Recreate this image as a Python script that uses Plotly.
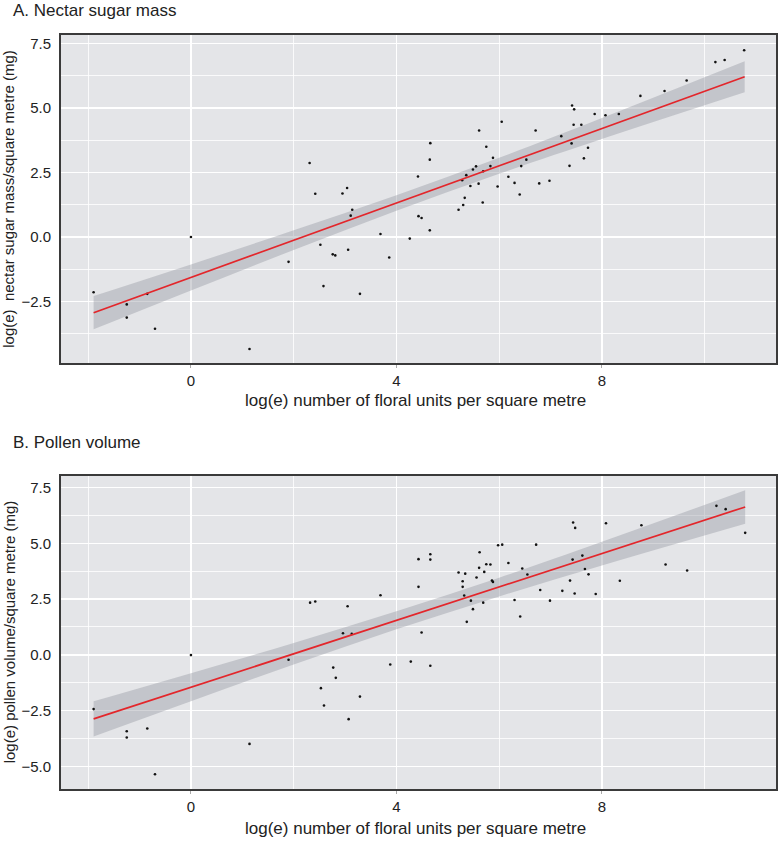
import plotly.graph_objects as go

# ---- Data ----
nectar_x = [-1.895, -1.25, -1.25, -0.85, -0.70, 0.0, 1.14,
            1.90, 2.31, 2.42, 2.52, 2.58, 2.76, 2.81, 2.95, 3.04, 3.06, 3.11, 3.14, 3.29,
            3.69, 3.86, 4.26, 4.42, 4.43, 4.49, 4.65, 4.65, 4.66,
            5.21, 5.28, 5.30, 5.33, 5.36, 5.44, 5.49, 5.55, 5.60, 5.61, 5.68, 5.69, 5.75,
            5.83, 5.88, 5.97, 6.05, 6.18, 6.30, 6.40, 6.43, 6.53, 6.71, 6.78, 6.98,
            7.21, 7.37, 7.41, 7.42, 7.45, 7.46, 7.60, 7.65, 7.73, 7.86, 8.07, 8.33,
            8.75, 9.22, 9.65, 10.21, 10.39, 10.77]
nectar_y = [-2.14, -2.61, -3.12, -2.20, -3.55, 0.0, -4.34,
            -0.96, 2.87, 1.68, -0.30, -1.90, -0.67, -0.71, 1.69, 1.90, -0.49, 0.83, 1.06, -2.20,
            0.12, -0.79, -0.06, 2.35, 0.81, 0.74, 0.26, 3.00, 3.64,
            1.06, 2.20, 1.24, 1.52, 2.40, 1.98, 2.62, 2.74, 2.07, 4.13, 1.34, 2.55, 3.50,
            2.75, 3.07, 1.96, 4.47, 2.34, 2.10, 1.65, 2.75, 3.00, 4.13, 2.08, 2.18,
            3.91, 2.76, 3.63, 5.10, 4.35, 4.95, 4.35, 3.05, 3.46, 4.77, 4.72, 4.77,
            5.47, 5.66, 6.07, 6.78, 6.86, 7.24]

pollen_x = [-1.895, -1.25, -1.25, -0.85, -0.70, 0.0, 1.14,
            1.90, 2.32, 2.42, 2.53, 2.59, 2.77, 2.82, 2.96, 3.05, 3.07, 3.13, 3.29,
            3.69, 3.88, 4.28, 4.43, 4.43, 4.49, 4.66, 4.66, 4.66,
            5.21, 5.29, 5.29, 5.32, 5.34, 5.37, 5.45, 5.49, 5.56, 5.61, 5.62, 5.69, 5.71,
            5.75, 5.83, 5.86, 5.88, 5.98, 6.06, 6.18, 6.30, 6.41, 6.45, 6.55, 6.72, 6.80,
            6.99, 7.23, 7.38, 7.43, 7.44, 7.47, 7.48, 7.62, 7.67, 7.74, 7.88, 8.08, 8.35,
            8.77, 9.24, 9.66, 10.23, 10.41, 10.79]
pollen_y = [-2.43, -3.42, -3.70, -3.30, -5.35, -0.01, -3.99,
            -0.22, 2.34, 2.39, -1.49, -2.27, -0.57, -1.03, 0.97, 2.18, -2.88, 0.94, -1.87,
            2.67, -0.43, -0.30, 4.29, 3.05, 1.00, 4.51, 4.27, -0.49,
            3.69, 3.30, 3.05, 2.66, 3.64, 1.48, 2.43, 2.05, 3.47, 3.90, 4.60, 2.34, 3.72,
            4.06, 4.05, 3.33, 3.27, 4.91, 4.94, 4.12, 2.46, 1.72, 3.87, 3.60, 4.94, 2.91,
            2.43, 2.87, 3.33, 4.27, 5.93, 2.75, 5.69, 4.45, 3.85, 3.61, 2.73, 5.90, 3.32,
            5.81, 4.05, 3.78, 6.68, 6.53, 5.47]

# fitted line and 95% band at a few x positions
nectar_fit_x = [-1.895, 0, 2, 4, 6, 8, 10.78]
nectar_fit_y = [-2.93, -1.56, -0.12, 1.32, 2.76, 4.20, 6.21]
nectar_fit_lo = [-3.575, -2.07, -0.50, 1.02, 2.45, 3.80, 5.61]
nectar_fit_hi = [-2.285, -1.06, 0.26, 1.62, 3.07, 4.61, 6.81]

pollen_fit_x = [-1.895, 0, 2, 4, 6, 8, 10.79]
pollen_fit_y = [-2.87, -1.45, 0.05, 1.55, 3.04, 4.54, 6.63]
pollen_fit_lo = [-3.66, -2.08, -0.43, 1.15, 2.62, 4.01, 5.88]
pollen_fit_hi = [-2.08, -0.82, 0.53, 1.95, 3.46, 5.07, 7.38]

x_ticks = [0, 4, 8]
titles = ["A. Nectar sugar mass", "B. Pollen volume"]
y_titles = ["log(e)  nectar sugar mass/square metre (mg)",
            "log(e) pollen volume/square metre (mg)"]
x_title = "log(e) number of floral units per square metre"

W, H = 780, 848
FONT = "Arial, Liberation Sans, Helvetica, sans-serif"


def fx(px):
    return px / W


def fy(py):
    return 1 - py / H


fig = go.Figure()

panels = [
    dict(x=nectar_x, y=nectar_y, fx=nectar_fit_x, fy=nectar_fit_y,
         lo=nectar_fit_lo, hi=nectar_fit_hi, xa="x", ya="y", top=34.5, bot=363,
         yr=[-4.88, 7.85], ytv=[-2.5, 0, 2.5, 5.0, 7.5]),
    dict(x=pollen_x, y=pollen_y, fx=pollen_fit_x, fy=pollen_fit_y,
         lo=pollen_fit_lo, hi=pollen_fit_hi, xa="x2", ya="y2", top=475.7, bot=789,
         yr=[-6.01, 8.03], ytv=[-5.0, -2.5, 0, 2.5, 5.0, 7.5]),
]

left_px, right_px = 61, 776

for i, p in enumerate(panels):
    fig.add_trace(go.Scatter(
        x=p["fx"], y=p["lo"], mode="lines", line=dict(width=0, shape="spline"),
        hoverinfo="skip", showlegend=False, xaxis=p["xa"], yaxis=p["ya"]))
    fig.add_trace(go.Scatter(
        x=p["fx"], y=p["hi"], mode="lines", line=dict(width=0, shape="spline"),
        fill="tonexty", fillcolor="rgba(150,152,162,0.42)",
        hoverinfo="skip", showlegend=False, xaxis=p["xa"], yaxis=p["ya"]))
    fig.add_trace(go.Scatter(
        x=p["x"], y=p["y"], mode="markers",
        marker=dict(size=2.6, color="#111111"),
        showlegend=False, xaxis=p["xa"], yaxis=p["ya"]))
    fig.add_trace(go.Scatter(
        x=p["fx"], y=p["fy"], mode="lines", line=dict(color="#e3262b", width=1.7),
        showlegend=False, xaxis=p["xa"], yaxis=p["ya"]))

    sfx = "" if i == 0 else str(i + 1)
    fig.layout["xaxis" + sfx] = dict(
        domain=[fx(left_px), fx(right_px)], range=[-2.53, 11.39],
        anchor="y" + sfx, tickvals=x_ticks, ticktext=[str(v) for v in x_ticks],
        showgrid=True, gridcolor="white", gridwidth=1.6,
        minor=dict(dtick=2, tick0=0, showgrid=True, gridcolor="white", gridwidth=0.8),
        zeroline=False, showline=True, linecolor="#3a3a3a", linewidth=2, mirror=True,
        ticks="outside", ticklen=3, tickcolor="#aaaaaa", tickwidth=1,
        tickfont=dict(family=FONT, size=15, color="#222"), fixedrange=True)
    fig.layout["yaxis" + sfx] = dict(
        domain=[fy(p["bot"]), fy(p["top"])], range=p["yr"],
        anchor="x" + sfx, tickvals=p["ytv"],
        ticktext=[("%.1f" % v).replace("-", "\u2212") for v in p["ytv"]],
        showgrid=True, gridcolor="white", gridwidth=1.6,
        minor=dict(dtick=1.25, tick0=0, showgrid=True, gridcolor="white", gridwidth=0.8),
        zeroline=False, showline=True, linecolor="#3a3a3a", linewidth=2, mirror=True,
        ticks="", ticklabelstandoff=5,
        tickfont=dict(family=FONT, size=15, color="#222"), fixedrange=True)

annotations = []
title_y = [11, 442]
xt_y = [400, 828]
for i, p in enumerate(panels):
    annotations.append(dict(text=titles[i], x=fx(11), y=fy(title_y[i]), xref="paper", yref="paper",
                            xanchor="left", yanchor="middle", showarrow=False,
                            font=dict(family=FONT, size=17, color="#222")))
    annotations.append(dict(text=x_title, x=fx(415), y=fy(xt_y[i]), xref="paper", yref="paper",
                            xanchor="center", yanchor="middle", showarrow=False,
                            font=dict(family=FONT, size=17, color="#222")))
    annotations.append(dict(text=y_titles[i], x=fx(9), y=fy((p["top"] + p["bot"]) / 2),
                            xref="paper", yref="paper", textangle=-90,
                            xanchor="center", yanchor="middle", showarrow=False,
                            font=dict(family=FONT, size=15, color="#222")))

fig.update_layout(
    width=W, height=H, margin=dict(l=0, r=0, t=0, b=0),
    paper_bgcolor="white", plot_bgcolor="#e4e5e8",
    annotations=annotations, showlegend=False, hovermode=False)

fig.write_html("out.html", config={"displayModeBar": False, "staticPlot": True},
               post_script="document.body.style.margin='0';")
